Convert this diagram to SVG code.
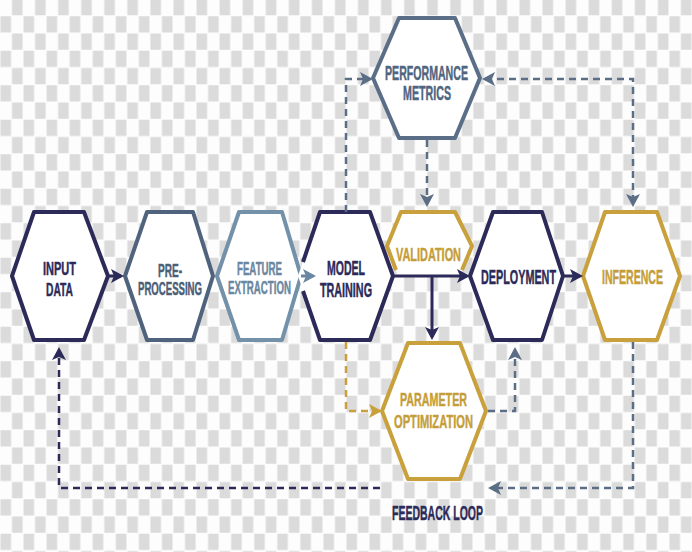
<svg xmlns="http://www.w3.org/2000/svg" width="692" height="552" viewBox="0 0 692 552">
<style>
.hex{fill:#ffffff;stroke-width:4;stroke-linejoin:round}
.navy{stroke:#2c2a58}
.slate{stroke:#4f637c}
.steel{stroke:#7391a8}
.perf{stroke:#5a6f87}
.gold{stroke:#c9a13c}
text{font-family:"Liberation Sans",Arial,sans-serif;font-weight:bold;text-anchor:middle;stroke-width:0.45;stroke-linejoin:round}
.tn{fill:#2c2a58;stroke:#2c2a58}
.ts{fill:#4b5d77;stroke:#4b5d77}
.tf{fill:#6a879f;stroke:#6a879f}
.tp{fill:#4f6580;stroke:#4f6580}
.tg{fill:#c59d38;stroke:#c59d38}
.solid{fill:none;stroke-width:3}
.dash{fill:none;stroke-width:2.5;stroke-dasharray:7 5}
</style>
<defs>
<pattern id="checker" patternUnits="userSpaceOnUse" x="0" y="-1.5" width="23.0667" height="34.5">
<rect x="0" y="0" width="23.0667" height="34.5" fill="#fdfdfd"/>
<rect x="12.03" y="0.5" width="10.53" height="16.25" fill="#dbdbdb"/>
<rect x="0.5" y="17.75" width="10.53" height="16.25" fill="#dbdbdb"/>
</pattern>
<marker id="aNavy" markerUnits="userSpaceOnUse" markerWidth="16" markerHeight="16" viewBox="0 0 16 16" refX="10" refY="8" orient="auto-start-reverse"><path d="M0,1 L13,8 L0,15 L3,8 Z" fill="#2c2a58"/></marker>
<marker id="aSteel" markerUnits="userSpaceOnUse" markerWidth="16" markerHeight="16" viewBox="0 0 16 16" refX="10" refY="8" orient="auto-start-reverse"><path d="M0,1 L13,8 L0,15 L3,8 Z" fill="#6a86a0"/></marker>
<marker id="aSlate" markerUnits="userSpaceOnUse" markerWidth="16" markerHeight="16" viewBox="0 0 16 16" refX="10" refY="8" orient="auto-start-reverse"><path d="M0,1 L13,8 L0,15 L3,8 Z" fill="#5b6e86"/></marker>
<marker id="aGold" markerUnits="userSpaceOnUse" markerWidth="16" markerHeight="16" viewBox="0 0 16 16" refX="10" refY="8" orient="auto-start-reverse"><path d="M0,1 L13,8 L0,15 L3,8 Z" fill="#c9a13c"/></marker>
</defs>
<rect x="0" y="0" width="692" height="552" fill="url(#checker)"/>

<g id="input-data">
<polygon class="hex navy" points="34,212 84,212 108,276 84,340 34,340 12,276"/>
<text class="tn" x="59.5" y="275" font-size="18" textLength="33" lengthAdjust="spacingAndGlyphs">INPUT</text>
<text class="tn" x="59.5" y="295.5" font-size="18" textLength="27" lengthAdjust="spacingAndGlyphs">DATA</text>
</g>
<g id="pre-processing">
<polygon class="hex slate" points="147,212 193,212 213,276 193,340 147,340 125,276"/>
<text class="ts" x="170" y="276.5" font-size="17.5" textLength="24" lengthAdjust="spacingAndGlyphs">PRE-</text>
<text class="ts" x="170" y="294.5" font-size="17.5" textLength="64" lengthAdjust="spacingAndGlyphs">PROCESSING</text>
</g>
<g id="feature-extraction">
<polygon class="hex steel" points="239,212 282,212 301,276 282,340 239,340 217,276"/>
<text class="tf" x="259.5" y="275" font-size="17.5" textLength="45" lengthAdjust="spacingAndGlyphs">FEATURE</text>
<text class="tf" x="259.5" y="294" font-size="17.5" textLength="63" lengthAdjust="spacingAndGlyphs">EXTRACTION</text>
</g>
<g id="model-training">
<polygon points="320,212 370,212 393,276 370,340 320,340 298,276" fill="#ffffff"/>
<path class="hex navy" style="fill:none" d="M303,262 L320,212 L370,212 L393,276 L370,340 L320,340 L303,291"/>
<text class="tn" x="346" y="275" font-size="19.5" textLength="38" lengthAdjust="spacingAndGlyphs">MODEL</text>
<text class="tn" x="346" y="296.5" font-size="19.5" textLength="52" lengthAdjust="spacingAndGlyphs">TRAINING</text>
</g>
<g id="validation">
<polygon points="398,276 387,246 401,212 455,212 472,246 460,276" fill="#ffffff"/>
<path class="hex gold" style="fill:none" d="M396,270 L387,246 L401,212 L455,212 L472,246 L462,270"/>
<text class="tg" x="428.5" y="261" font-size="19" textLength="65" lengthAdjust="spacingAndGlyphs">VALIDATION</text>
</g>
<g id="deployment">
<polygon class="hex navy" points="493,212 542,212 563,276 542,340 493,340 470,276"/>
<text class="tn" x="518.5" y="284" font-size="20" textLength="75" lengthAdjust="spacingAndGlyphs">DEPLOYMENT</text>
</g>
<g id="inference">
<polygon class="hex gold" points="605,212 657,212 680,276 657,340 605,340 583,276"/>
<text class="tg" x="632.5" y="284" font-size="20" textLength="61" lengthAdjust="spacingAndGlyphs">INFERENCE</text>
</g>
<g id="performance-metrics">
<polygon class="hex perf" points="399,18 455,18 480,78 455,138 399,138 373,78"/>
<text class="tp" x="426.5" y="80" font-size="19.5" textLength="83" lengthAdjust="spacingAndGlyphs">PERFORMANCE</text>
<text class="tp" x="427" y="100" font-size="19.5" textLength="48" lengthAdjust="spacingAndGlyphs">METRICS</text>
</g>
<g id="parameter-optimization">
<polygon class="hex gold" points="408,343 460,343 486,411 460,479 408,479 382,411"/>
<text class="tg" x="433.5" y="406" font-size="19" textLength="67" lengthAdjust="spacingAndGlyphs">PARAMETER</text>
<text class="tg" x="433.5" y="428" font-size="19" textLength="79" lengthAdjust="spacingAndGlyphs">OPTIMIZATION</text>
</g>
<g id="feedback-label">
<text class="tn" x="437.5" y="520" font-size="20" textLength="91" lengthAdjust="spacingAndGlyphs">FEEDBACK LOOP</text>
</g>

<g id="connectors">
<path class="solid" stroke="#2c2a58" d="M108,276 H121" marker-end="url(#aNavy)"/>
<path class="solid" stroke="#6a86a0" d="M301,276 H313" marker-end="url(#aSteel)"/>
<path class="solid" stroke="#2c2a58" d="M393,276 H467" marker-end="url(#aNavy)"/>
<path class="solid" stroke="#2c2a58" d="M432,276 V337" marker-end="url(#aNavy)"/>
<path class="solid" stroke="#2c2a58" d="M563,276 H580" marker-end="url(#aNavy)"/>
<path class="dash" stroke="#5b6e86" d="M346,212 V79 H370" marker-end="url(#aSlate)"/>
<path class="dash" stroke="#5b6e86" d="M485,79 H633 V204" marker-start="url(#aSlate)" marker-end="url(#aSlate)"/>
<path class="dash" stroke="#5b6e86" d="M427,140 V204" marker-end="url(#aSlate)"/>
<path class="dash" stroke="#c9a13c" d="M346,342 V411 H379" marker-end="url(#aGold)"/>
<path class="dash" stroke="#5b6e86" d="M488,411 H515 V350" marker-end="url(#aSlate)"/>
<path class="dash" stroke="#2c2a58" d="M380,488 H59 V350" marker-end="url(#aNavy)"/>
<path class="dash" stroke="#5b6e86" d="M633,342 V488 H491" marker-end="url(#aSlate)"/>
</g>
</svg>
